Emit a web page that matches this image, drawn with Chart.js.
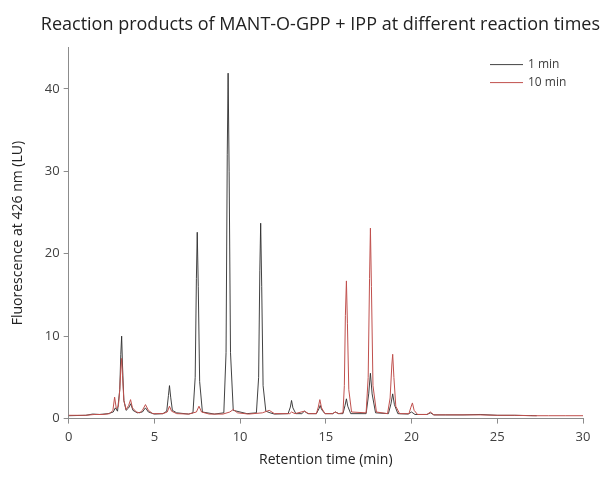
<!DOCTYPE html>
<html>
<head>
<meta charset="utf-8">
<script src="https://cdn.jsdelivr.net/npm/chart.js@4"></script>
<style>
html,body{margin:0;padding:0;background:#fff;}
</style>
</head>
<body>
<canvas id="chromChart" width="604" height="480"></canvas>
<script>
// retention time (min) and fluorescence (LU)
const time1 = [0, 1.0, 1.4, 1.8, 2.3, 2.6, 2.72, 2.85, 2.98, 3.04, 3.09, 3.14, 3.22, 3.35, 3.5, 3.62, 3.75, 4.0, 4.3, 4.48,
  4.65, 5.0, 5.5, 5.72, 5.82, 5.88, 5.95, 6.05, 6.3, 7.0, 7.25, 7.38, 7.45, 7.5, 7.56, 7.64, 7.8, 8.5, 9.05, 9.18,
  9.25, 9.3, 9.36, 9.44, 9.6, 10.4, 10.95, 11.08, 11.15, 11.2, 11.26, 11.34, 11.5, 11.75, 12.0, 12.8, 12.93, 13.0, 13.08, 13.25,
  13.6, 13.75, 13.95, 14.45, 14.6, 14.67, 14.75, 14.95, 15.4, 15.55, 15.75, 16.0, 16.12, 16.2, 16.28, 16.45, 17.35, 17.5, 17.6, 17.7,
  17.9, 18.65, 18.8, 18.9, 19.0, 19.2, 19.8, 20.0, 20.2, 20.9, 21.1, 21.3, 22.0, 23.0, 24.0, 25.0, 26.0, 27.3];
const fluor1min = [0.35, 0.4, 0.55, 0.5, 0.6, 0.8, 1.3, 0.9, 3.5, 7.8, 10.0, 6.5, 2.2, 1.0, 1.3, 1.8, 1.0, 0.7, 0.8, 1.3,
  0.8, 0.55, 0.6, 0.9, 2.8, 4.0, 2.6, 1.0, 0.7, 0.55, 0.7, 5.0, 17.0, 22.6, 16.0, 4.5, 0.8, 0.55, 0.7, 8.0,
  32.0, 41.9, 30.0, 8.0, 1.0, 0.6, 0.7, 5.0, 18.0, 23.7, 16.0, 4.0, 0.9, 0.7, 0.55, 0.6, 1.4, 2.2, 1.3, 0.6,
  0.6, 0.9, 0.6, 0.6, 1.2, 1.6, 1.1, 0.6, 0.6, 0.8, 0.6, 0.6, 1.6, 2.4, 1.5, 0.6, 0.6, 3.0, 5.5, 3.0,
  0.7, 0.6, 1.8, 3.0, 1.7, 0.6, 0.55, 0.8, 0.5, 0.5, 0.7, 0.45, 0.45, 0.45, 0.5, 0.4, 0.4, 0.35];

const time10 = [0, 1.0, 1.5, 2.0, 2.4, 2.58, 2.68, 2.78, 2.9, 2.98, 3.04, 3.09, 3.14, 3.22, 3.35, 3.5, 3.61, 3.72, 3.95, 4.15,
  4.3, 4.48, 4.65, 4.9, 5.5, 5.75, 5.88, 6.0, 6.3, 7.0, 7.45, 7.6, 7.75, 8.2, 9.0, 9.4, 9.6, 9.85, 10.5, 11.3,
  11.7, 12.0, 12.9, 13.0, 13.2, 13.75, 14.0, 14.45, 14.56, 14.65, 14.75, 14.95, 15.4, 15.55, 15.75, 16.0, 16.08, 16.14, 16.2, 16.26,
  16.34, 16.5, 17.35, 17.47, 17.55, 17.6, 17.66, 17.75, 17.95, 18.6, 18.75, 18.85, 18.9, 18.97, 19.08, 19.3, 19.85, 19.95, 20.05, 20.15,
  20.35, 20.9, 21.1, 21.3, 22.0, 23.0, 24.0, 25.0, 26.0, 27.0, 28.0, 29.0, 30.0];
const fluor10min = [0.4, 0.4, 0.5, 0.5, 0.6, 1.0, 2.6, 1.2, 1.5, 3.5, 6.0, 7.3, 5.2, 2.2, 1.1, 1.6, 2.3, 1.3, 0.8, 0.7,
  1.0, 1.7, 1.0, 0.6, 0.6, 0.8, 1.5, 0.9, 0.6, 0.55, 0.8, 1.5, 0.8, 0.55, 0.55, 0.8, 1.1, 0.7, 0.55, 0.7,
  1.0, 0.6, 0.6, 0.8, 0.6, 0.9, 0.6, 0.6, 1.4, 2.3, 1.3, 0.6, 0.6, 0.8, 0.6, 0.7, 4.0, 12.5, 16.7, 11.5,
  3.5, 0.8, 0.7, 5.0, 17.0, 23.1, 16.0, 4.0, 0.8, 0.6, 2.5, 6.5, 7.8, 5.0, 1.5, 0.6, 0.6, 1.3, 1.9, 1.0,
  0.5, 0.5, 0.8, 0.45, 0.45, 0.45, 0.45, 0.4, 0.4, 0.35, 0.35, 0.35, 0.35];

const seriesNames = ["1 min", "10 min"];
const xTicks = [0, 5, 10, 15, 20, 25, 30];
const yTicks = [0, 10, 20, 30, 40];

function toPoints(xs, ys){
    return xs.map((x, i) => ({x: x, y: ys[i]}));
}

const fontName = "'Open Sans', sans-serif";
const textColor = "#404040";
const axisColor = "#8c8c8c";

// legend drawn inside the plot, top right
const innerLegend = {
    id: "innerLegend",
    afterDatasetsDraw(chart){
        const ctx = chart.ctx;
        const area = chart.chartArea;
        ctx.save();
        ctx.font = "12px " + fontName;
        ctx.textBaseline = "middle";
        chart.data.datasets.forEach((ds, i) => {
            const y = area.top + 17 + i * 18;
            ctx.strokeStyle = ds.borderColor;
            ctx.lineWidth = 1;
            ctx.beginPath();
            ctx.moveTo(area.right - 93, y);
            ctx.lineTo(area.right - 60, y);
            ctx.stroke();
            ctx.fillStyle = textColor;
            ctx.fillText(ds.label, area.right - 55, y);
        });
        ctx.restore();
    }
};

new Chart(document.getElementById("chromChart"), {
    type: "line",
    data: {
        datasets: [{
            label: seriesNames[0],
            data: toPoints(time1, fluor1min),
            borderColor: "rgba(45,45,45,0.9)",
            borderWidth: 1,
            pointRadius: 0,
            tension: 0,
            order: 1
        }, {
            label: seriesNames[1],
            data: toPoints(time10, fluor10min),
            borderColor: "#c0504d",
            borderWidth: 1,
            pointRadius: 0,
            tension: 0,
            order: 0
        }]
    },
    options: {
        responsive: false,
        animation: false,
        layout: {padding: {left: 6, right: 4, top: 0, bottom: 8}},
        plugins: {
            legend: {display: false},
            tooltip: {enabled: false},
            title: {
                display: true,
                text: "Reaction products of MANT-O-GPP + IPP at different reaction times",
                align: "end",
                color: "#222",
                font: {family: fontName, size: 18, weight: "normal"},
                padding: {top: 14, bottom: 12}
            }
        },
        scales: {
            x: {
                type: "linear",
                min: 0,
                max: 30,
                afterBuildTicks: s => { s.ticks = xTicks.map(v => ({value: v})); },
                afterFit: s => { s.paddingRight = 21; },
                grid: {display: true, drawOnChartArea: false, tickLength: 5, color: axisColor},
                border: {color: axisColor},
                ticks: {color: textColor, font: {family: fontName, size: 13}, padding: 6, maxRotation: 0},
                title: {display: true, text: "Retention time (min)", color: "#222",
                    font: {family: fontName, size: 14}, padding: {top: 0}}
            },
            y: {
                min: 0,
                max: 45,
                afterBuildTicks: s => { s.ticks = yTicks.map(v => ({value: v})); },
                grid: {display: true, drawOnChartArea: false, tickLength: 5, color: axisColor},
                border: {color: axisColor},
                ticks: {color: textColor, font: {family: fontName, size: 13}, padding: 4},
                title: {display: true, text: "Fluorescence at 426 nm (LU)", color: "#222",
                    font: {family: fontName, size: 14}, padding: {bottom: 14}}
            }
        }
    },
    plugins: [innerLegend]
});
</script>
</body>
</html>
